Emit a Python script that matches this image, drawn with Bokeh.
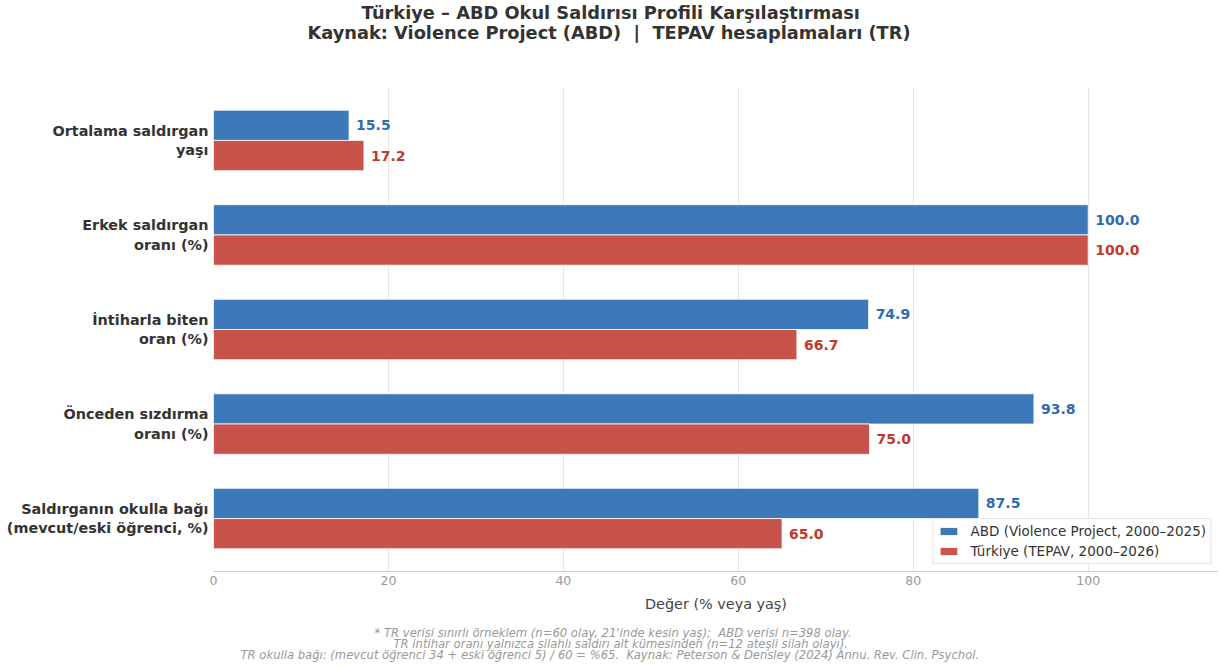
from bokeh.plotting import figure
from bokeh.models import Range1d, FixedTicker, Title, ColumnDataSource, Legend, LegendItem
from bokeh.embed import file_html
from bokeh.resources import INLINE
from bokeh.core.properties import value

categories = ["Ortalama saldırgan\nyaşı", "Erkek saldırgan\noranı (%)", "İntiharla biten\noran (%)",
              "Önceden sızdırma\noranı (%)", "Saldırganın okulla bağı\n(mevcut/eski öğrenci, %)"]
abd = [15.5, 100.0, 74.9, 93.8, 87.5]
tr = [17.2, 100.0, 66.7, 75.0, 65.0]
xticks = [0, 20, 40, 60, 80, 100]
NB = "\u00a0"
title_lines = ["Türkiye – ABD Okul Saldırısı Profili Karşılaştırması",
               f"Kaynak: Violence Project (ABD) {NB}|{NB} TEPAV hesaplamaları (TR)"]
notes = [f"* TR verisi sınırlı örneklem (n=60 olay, 21'inde kesin yaş); {NB}ABD verisi n=398 olay.",
         "TR intihar oranı yalnızca silahlı saldırı alt kümesinden (n=12 ateşli silah olayı).",
         f"TR okulla bağı: (mevcut öğrenci 34 + eski öğrenci 5) / 60 = %65. {NB}Kaynak: Peterson & Densley (2024) Annu. Rev. Clin. Psychol."]
legend_labels = ["ABD (Violence Project, 2000–2025)", "Türkiye (TEPAV, 2000–2026)"]

FONT = "DejaVu Sans"
BLUE, BLUE_T = "#3D79B8", "#2E6BB0"
RED, RED_T = "#C7534A", "#C0392B"
H = 0.32

p = figure(width=1218, height=667, output_backend="svg", toolbar_location=None,
           x_range=Range1d(0, 114.9), y_range=Range1d(4.56, -0.56),
           min_border_left=213, min_border_right=0, min_border_top=87, min_border_bottom=96)
p.outline_line_color = None
p.background_fill_color = "white"

idx = list(range(len(categories)))
src_a = ColumnDataSource(dict(y=[i - H / 2 for i in idx], v=abd, t=[f"{x:.1f}" for x in abd]))
src_t = ColumnDataSource(dict(y=[i + H / 2 for i in idx], v=tr, t=[f"{x:.1f}" for x in tr]))

ra = p.hbar(y="y", left=0, right="v", height=H, source=src_a, fill_color=BLUE, line_color="white", line_width=0.8)
rt = p.hbar(y="y", left=0, right="v", height=H, source=src_t, fill_color=RED, line_color="white", line_width=0.8)

p.text(x="v", y="y", text="t", source=src_a, x_offset=7, text_baseline="middle", text_align="left",
       text_font=value(FONT), text_font_style="bold", text_font_size="14px", text_color=BLUE_T)
p.text(x="v", y="y", text="t", source=src_t, x_offset=7, text_baseline="middle", text_align="left",
       text_font=value(FONT), text_font_style="bold", text_font_size="14px", text_color=RED_T)

# axes
p.xaxis.ticker = FixedTicker(ticks=xticks)
p.xaxis.axis_line_color = "#cccccc"
p.xaxis.major_tick_line_color = None
p.xaxis.minor_tick_line_color = None
p.xaxis.major_tick_out = 0
p.xaxis.major_tick_in = 0
p.xaxis.major_label_text_color = "#999999"
p.xaxis.major_label_text_font = FONT
p.xaxis.major_label_text_font_size = "12.5px"
p.xaxis.major_label_standoff = 4
p.xaxis.axis_label = "Değer (% veya yaş)"
p.xaxis.axis_label_text_font = FONT
p.xaxis.axis_label_text_font_style = "normal"
p.xaxis.axis_label_text_font_size = "14.4px"
p.xaxis.axis_label_text_color = "#444444"
p.xaxis.axis_label_standoff = 8

p.yaxis.ticker = FixedTicker(ticks=idx)
p.yaxis.major_label_overrides = {i: c for i, c in zip(idx, categories)}
p.yaxis.axis_line_color = None
p.yaxis.major_tick_line_color = None
p.yaxis.minor_tick_line_color = None
p.yaxis.major_tick_out = 0
p.yaxis.major_tick_in = 0
p.yaxis.major_label_text_font = FONT
p.yaxis.major_label_text_font_style = "bold"
p.yaxis.major_label_text_font_size = "14.4px"
p.yaxis.major_label_text_color = "#333333"
p.yaxis.major_label_standoff = 5

p.ygrid.grid_line_color = None
p.xgrid.grid_line_color = "#e6e6e6"
p.xgrid.grid_line_width = 1

# titles (panels are stacked outward from the frame in order of addition)
p.add_layout(Title(text=NB, standoff=43, text_font_size="1px"), "above")
p.add_layout(Title(text=title_lines[1], align="left", offset=94, standoff=-3,
                   text_font=FONT, text_font_style="bold", text_font_size="17.8px", text_color="#333333"), "above")
p.add_layout(Title(text=title_lines[0], align="left", offset=148, standoff=-3,
                   text_font=FONT, text_font_style="bold", text_font_size="17.8px", text_color="#333333"), "above")

p.add_layout(Title(text=NB, standoff=8.5, text_font_size="1px"), "below")
for line, off in zip(notes, [161, 180, 27]):
    p.add_layout(Title(text=line, align="left", offset=off, standoff=-5,
                       text_font=FONT, text_font_style="italic", text_font_size="11.6px", text_color="#999999"), "below")

legend = Legend(items=[LegendItem(label=legend_labels[0], renderers=[ra]),
                       LegendItem(label=legend_labels[1], renderers=[rt])],
                location="bottom_right")
legend.label_text_font = FONT
legend.label_text_font_size = "13.5px"
legend.label_text_color = "#333333"
legend.border_line_color = "#cccccc"
legend.border_line_width = 1
legend.background_fill_alpha = 0.9
legend.glyph_width = 22
legend.glyph_height = 10
legend.spacing = 4
legend.padding = 4
legend.margin = 7
legend.label_standoff = 11
legend.label_height = 16
p.add_layout(legend)

open("out.html", "w").write(file_html(p, INLINE))
